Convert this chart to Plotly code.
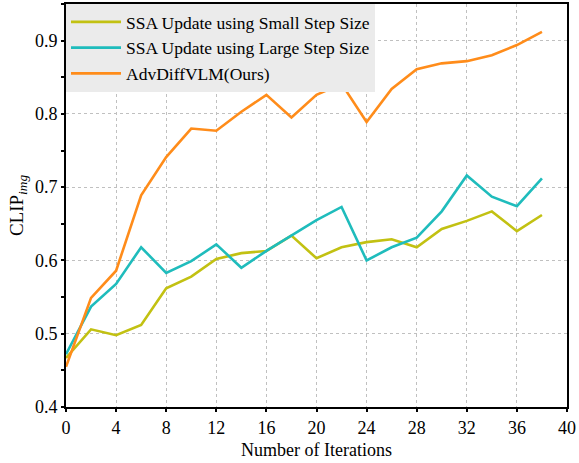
import plotly.graph_objects as go

iterations = [0, 2, 4, 6, 8, 10, 12, 14, 16, 18, 20, 22, 24, 26, 28, 30, 32, 34, 36, 38]
small_step = [0.467, 0.506, 0.498, 0.512, 0.562, 0.578, 0.602, 0.610, 0.613, 0.634, 0.603, 0.618, 0.625, 0.629, 0.618, 0.643, 0.654, 0.667, 0.640, 0.662]
large_step = [0.472, 0.537, 0.568, 0.618, 0.583, 0.599, 0.622, 0.590, 0.613, 0.634, 0.655, 0.673, 0.600, 0.618, 0.631, 0.667, 0.716, 0.687, 0.674, 0.712]
ours = [0.455, 0.549, 0.586, 0.689, 0.741, 0.780, 0.777, 0.803, 0.826, 0.795, 0.826, 0.841, 0.789, 0.834, 0.861, 0.869, 0.872, 0.880, 0.894, 0.912]

names = ["SSA Update using Small Step Size", "SSA Update using Large Step Size", "AdvDiffVLM(Ours)"]
colors = ["#c2c112", "#1fbcbc", "#ff8c1a"]
x_ticks = [0, 4, 8, 12, 16, 20, 24, 28, 32, 36, 40]
y_ticks = [0.4, 0.5, 0.6, 0.7, 0.8, 0.9]

font = "Liberation Serif"

fig = go.Figure()
for name, vals, c in zip(names, [small_step, large_step, ours], colors):
    fig.add_trace(go.Scatter(x=iterations, y=vals, mode="lines", name=name,
                             line=dict(color=c, width=2.6)))

axis_common = dict(showline=True, linecolor="black", linewidth=2, mirror=True,
                   ticks="outside", ticklen=3, tickwidth=2, tickcolor="black",
                   showgrid=True, gridcolor="#c0c0c0", griddash="dot", gridwidth=1,
                   zeroline=False, automargin=False,
                   tickfont=dict(family=font, size=18, color="black"))

fig.update_xaxes(range=[0, 40], tickvals=x_ticks,
                 title=dict(text="Number of Iterations", font=dict(family=font, size=18, color="black"), standoff=7),
                 **axis_common)
fig.update_yaxes(range=[0.4, 0.95], tickvals=y_ticks, tickformat=".1f",
                 title=dict(text="CLIP<sub><i>img</i></sub>", font=dict(family=font, size=19, color="black"), standoff=6),
                 minor=dict(ticks="outside", ticklen=3, dtick=0.05, tickcolor="black", showgrid=False),
                 **axis_common)

fig.update_layout(
    width=579, height=463,
    margin=dict(l=66, r=12, t=4, b=56),
    plot_bgcolor="white", paper_bgcolor="white",
    font=dict(family=font, size=18, color="black"),
    legend=dict(x=0.0, y=1.0, xanchor="left", yanchor="top",
                bgcolor="#ebebeb", borderwidth=0,
                font=dict(family=font, size=17.5, color="black"),
                itemwidth=50, tracegroupgap=0),
    showlegend=True,
)

fig.write_html("out.html", config={"displayModeBar": False},
               post_script="document.body.style.margin='0';document.body.style.overflow='hidden';")
